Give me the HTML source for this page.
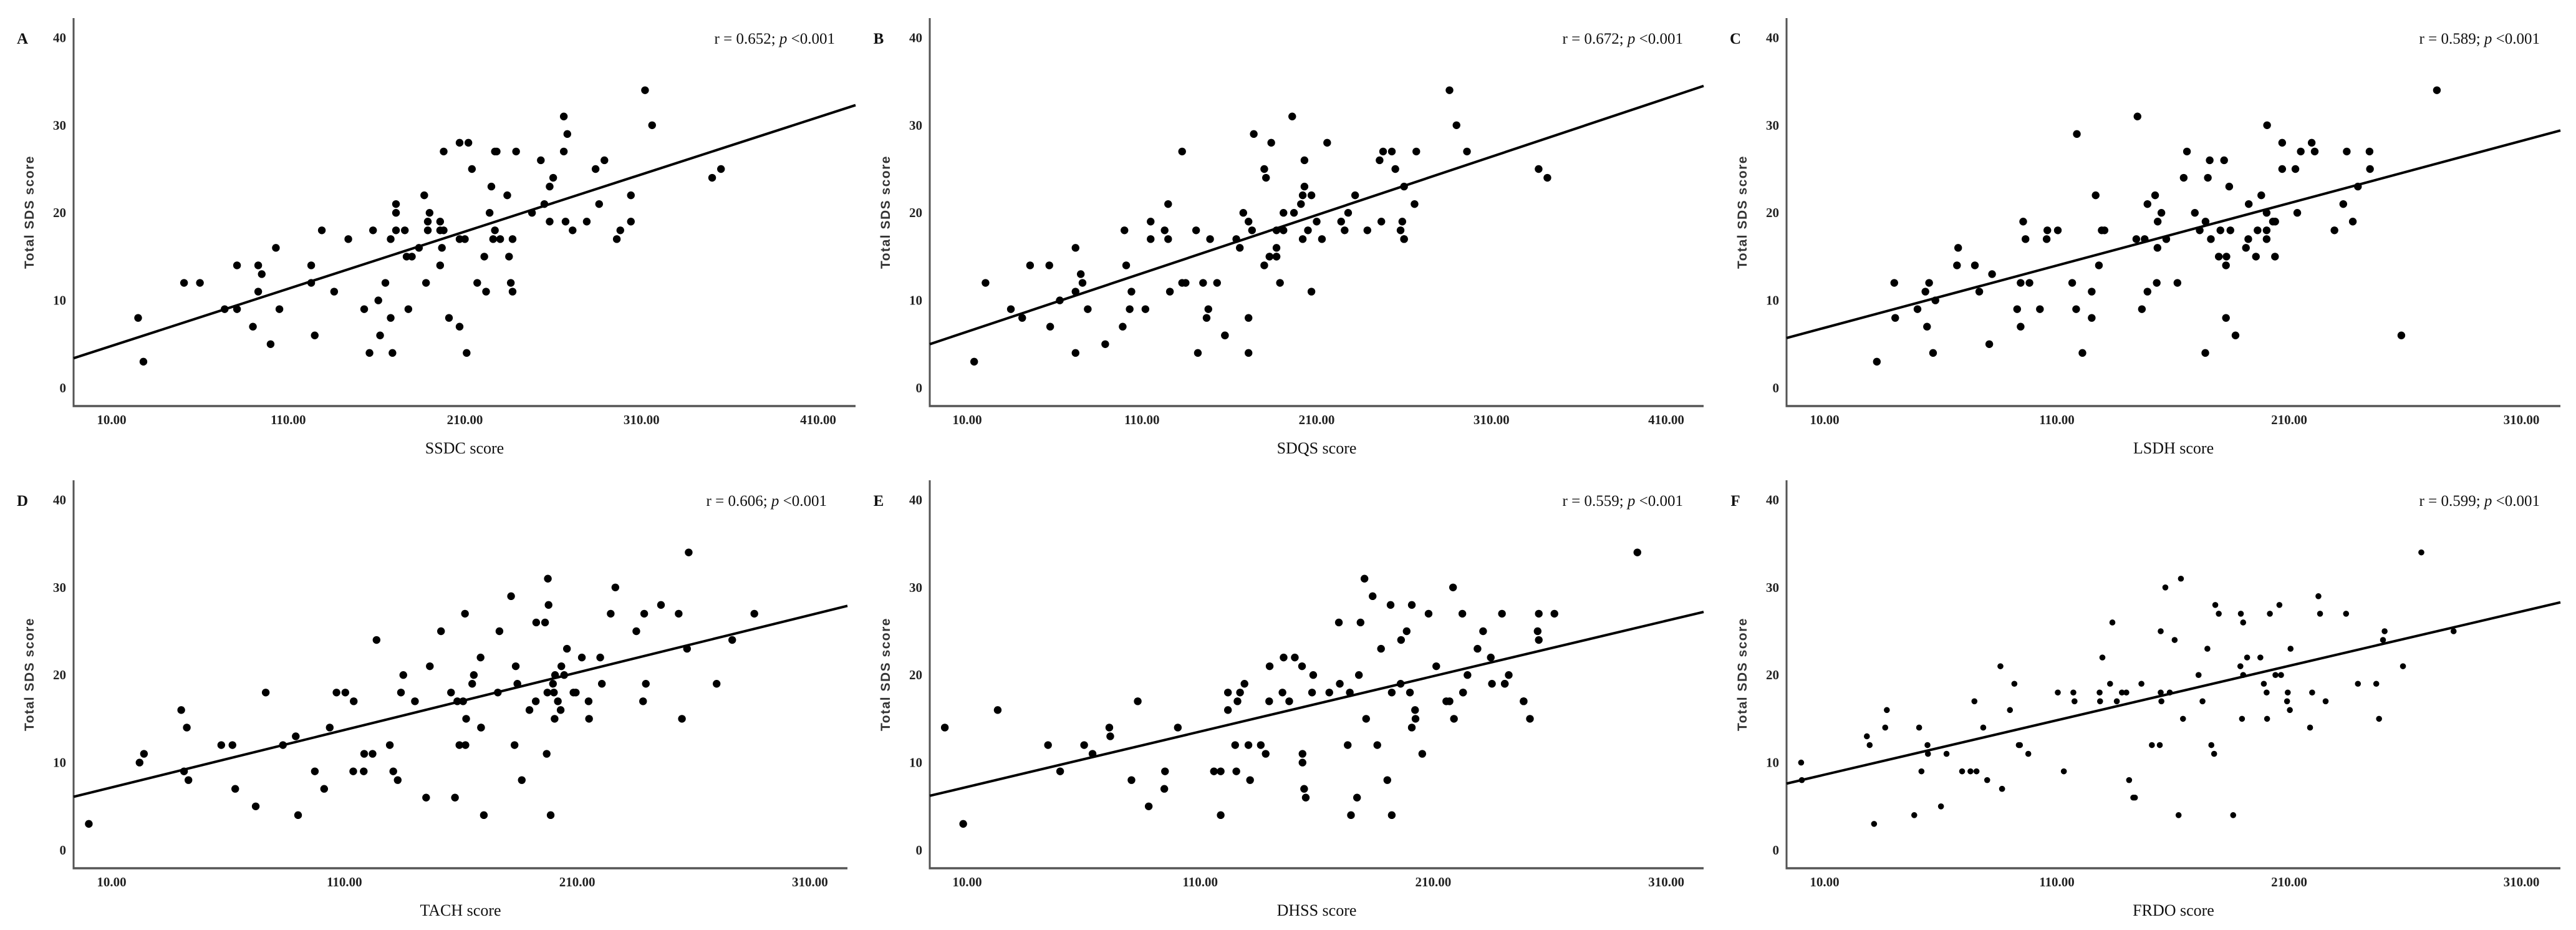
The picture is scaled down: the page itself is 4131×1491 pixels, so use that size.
<!DOCTYPE html>
<html><head><meta charset="utf-8"><title>SDS correlations</title>
<style>
html,body{margin:0;padding:0;background:#fff;}
svg{display:block;}
.tick{font-family:"Liberation Serif",serif;font-weight:bold;font-size:21px;fill:#222;}
.rt{font-family:"Liberation Serif",serif;font-size:25px;fill:#111;}
.xt{font-family:"Liberation Serif",serif;font-size:26px;fill:#111;}
.yt{font-family:"Liberation Sans",sans-serif;font-weight:bold;font-size:21px;letter-spacing:1.5px;fill:#333;}
.lt{font-family:"Liberation Serif",serif;font-weight:bold;font-size:25px;fill:#111;}
</style></head>
<body>
<svg id="chart" width="4131" height="1491" viewBox="0 0 4131 1491" xmlns="http://www.w3.org/2000/svg"></svg>
<script>
// Shared Total SDS score values (same subjects in every panel)
const sdsScores = [34,31,30,29,28,28,27,27,27,27,27,26,26,25,25,25,24,24,23,23,22,22,22,21,21,21,20,20,20,20,
19,19,19,19,19,19,18,18,18,18,18,18,18,18,18,18,17,17,17,17,17,17,17,17,16,16,16,15,15,15,15,14,14,14,14,13,
12,12,12,12,12,12,12,11,11,11,11,10,9,9,9,9,9,8,8,8,7,7,6,6,5,4,4,4,3];

const ssdcScores = [312,266,316,268,207,212,198,227,228,239,266,253,289,214,284,355,260,350,225,258,187,234,304,171,255,286,171,190,224,248,
189,196,258,267,279,304,129,158,171,176,189,196,198,227,271,298,144,168,207,210,226,230,237,296,103,184,197,177,180,221,235,81,93,123,196,95,
51,60,123,165,188,217,236,93,136,222,237,161,74,81,105,153,178,25,168,201,90,207,125,162,100,156,169,211,28];

const sdqsScores = [286,196,290,174,184,216,133,248,253,267,296,203,246,180,255,337,181,342,203,260,202,207,232,125,201,266,168,191,197,228,
115,171,210,224,247,259,100,123,141,173,187,191,205,226,239,258,115,125,149,164,202,213,260,260,72,166,187,183,187,183,187,46,57,101,180,75,
20.5,76,133,135,145,153,189,72,104,126,207,63,35,79,103,112,148,41.5,147,171,57.5,99,157.5,157.5,89,72,142,171,14];

const lsdhScores = [273.6,144.7,200.5,118.6,207,219.7,166,215,221,234.8,244.6,175.8,182,207,212.7,244.8,164.6,175,184.2,239.6,126.7,152.3,198,149,192.6,233.3,155,169.4,200.3,213.5,
95.5,153.4,174,203,204,237.4,105.9,110.4,129.3,130.5,171.5,180.4,184.7,196.4,200.3,229.5,96.5,105.6,144.2,147.8,157.1,176.3,192.4,200.3,67.5,153.3,191.4,179.7,183,195.7,203.9,67,74.7,128.1,182.8,82.1,
40,55,94.4,98.2,116.6,153,161.9,53.4,76.6,125,149,57.7,50,92.9,102.7,118.3,146.6,40.4,125,182.8,54.1,94.4,186.9,258.3,80.9,56.7,121,173.9,32.5];

const tachScores = [257.9,197.4,226.4,181.6,197.7,246,161.8,224.4,238.8,253.6,286.1,192.4,196.2,151.5,176.6,235.4,123.8,276.6,205.6,257.2,168.5,212,219.9,146.7,183.6,203.2,135.3,165.6,200.5,204.4,
164.9,184.3,199.6,220.6,239.5,269.9,76.2,106.6,110.4,134.3,155.8,175.9,197.2,200,208.4,209.4,114,140.3,158.5,161,192.2,201.7,214.9,238.3,39.9,189.5,202.9,162.3,200.3,215.1,255,42.3,103.7,168.7,168.7,89.1,
57.1,61.9,83.6,129.5,159.4,162,183.1,23.9,118.5,122.1,196.9,22,41.1,97.3,113.8,118.3,131,43,132.9,186.2,63.1,101.3,145.1,157.5,71.9,90.1,169.9,198.6,0.2];

const dhssScores = [297.6,180.5,218.5,184,191.7,200.8,208,222.5,239.5,255.3,262,169.5,178.8,198.6,231.4,254.8,196.2,255.3,187.6,229,145.8,150.6,234.7,139.8,153.7,211.3,158.5,178.1,224.7,242.4,
129,169.9,196,235.2,240.7,240.7,121.9,127.1,145.3,158,165.4,174.2,192.2,200,222.8,222.8,83.2,126,139.6,148.2,215.6,217,248.8,248.8,23.1,121.9,202.2,181.2,202.4,218.9,251.5,0.4,71,100.4,200.8,71.4,
44.7,60.2,125,130.7,136,173.3,186,63.8,138.1,153.9,205.3,153.9,49.9,94.9,115.9,118.8,125.5,80.5,131.4,190.3,94.6,154.6,155.3,177.3,87.9,118.8,174.7,192.2,8.3];

const frdoScores = [266.9,163.4,156.7,222.6,178.2,205.8,179.7,189.2,201.7,223.3,234.5,133.9,190.2,154.7,251.1,280.8,160.7,250.4,174.8,210.6,129.6,191.9,197.6,85.7,189,259,171,190.2,204.1,206.5,
91.7,132.9,146.4,199.1,239.6,247.5,110.4,117.1,128.4,138,139.9,154.7,158.6,200.3,209.4,219.9,74.5,117.6,128.6,135.8,155,172.7,209.1,225.7,36.8,89.8,210.3,164.3,189.7,200.5,248.7,36.1,50.7,78.3,219,28.2,
29.4,54.3,93.6,94.1,150.9,154.3,176.5,54.5,62.5,97.7,177.7,-0.1,51.7,69.2,72.8,75.4,113,0.2,80,141.1,86.4,86.4,142.9,143.6,60.1,48.6,162.4,185.9,31.3];

const panelLetters = ["A","B","C","D","E","F"];
const xTitles = ["SSDC score","SDQS score","LSDH score","TACH score","DHSS score","FRDO score"];
const rValues = ["0.652","0.672","0.589","0.606","0.559","0.599"];
const fitIntercepts = [4.15,5.76,6.16,6.51,6.59,8.0];
const fitSlopes = [0.06528,0.0666,0.07113,0.06558,0.06323,0.06212];
const xTicksWide = [10,110,210,310,410];
const xTicksNarrow = [10,110,210,310];
const yTicks = [0,10,20,30,40];
const xSeries = [ssdcScores,sdqsScores,lsdhScores,tachScores,dhssScores,frdoScores];

// geometry (pixels)
const geom = [
 {ax:118, ar:1372, x10:179, ppu:2.8325, oy:0, r:6.2, wide:true},
 {ax:1491, ar:2732, x10:1551, ppu:2.8025, oy:0, r:6.2, wide:true},
 {ax:2865, ar:4106, x10:2926, ppu:3.725, oy:0, r:6.2, wide:false},
 {ax:118, ar:1359, x10:179, ppu:3.733, oy:741, r:6.2, wide:false},
 {ax:1491, ar:2732, x10:1551, ppu:3.737, oy:741, r:6.2, wide:false},
 {ax:2865, ar:4106, x10:2926, ppu:3.725, oy:741, r:4.8, wide:false}
];
const NS = "http://www.w3.org/2000/svg";
const svg = document.getElementById('chart');
function mk(tag, parent){ const e=document.createElementNS(NS,tag); parent.appendChild(e); return e; }

for (let p=0;p<6;p++){
  const g = geom[p];
  const xs = v => g.x10 + (v-10)*g.ppu;
  const ys = v => g.oy + 622 - v*14.04;
  const yTop = g.oy + 29, yBot = g.oy + 651;
  const grp = mk('g', svg);
  
  

  const yaxis = mk('line', grp);
  
  
  yaxis.setAttribute('x1', g.ax); yaxis.setAttribute('x2', g.ax);
  yaxis.setAttribute('y1', yTop); yaxis.setAttribute('y2', yBot);
  yaxis.setAttribute('stroke', '#555'); yaxis.setAttribute('stroke-width', 3);

  const xaxis = mk('line', grp);
  
  
  xaxis.setAttribute('x1', g.ax-1.5); xaxis.setAttribute('x2', g.ar);
  xaxis.setAttribute('y1', yBot); xaxis.setAttribute('y2', yBot);
  xaxis.setAttribute('stroke', '#555'); xaxis.setAttribute('stroke-width', 3.5);

  yTicks.forEach(t => {
    const tx = mk('text', grp);
    
    
    tx.setAttribute('class', 'tick');
    tx.setAttribute('x', g.ax - 12); tx.setAttribute('y', ys(t) + 7);
    tx.setAttribute('text-anchor', 'end');
    tx.textContent = String(t);
  });
  (g.wide ? xTicksWide : xTicksNarrow).forEach(t => {
    const tx = mk('text', grp);
    
    
    tx.setAttribute('class', 'tick');
    tx.setAttribute('x', xs(t)); tx.setAttribute('y', g.oy + 680);
    tx.setAttribute('text-anchor', 'middle');
    tx.textContent = t.toFixed(2);
  });

  const xt = mk('text', grp);
  
  
  xt.setAttribute('class', 'xt');
  xt.setAttribute('x', (g.ax + g.ar)/2); xt.setAttribute('y', g.oy + 727);
  xt.setAttribute('text-anchor', 'middle');
  xt.textContent = xTitles[p];

  const yt = mk('text', grp);
  
  
  yt.setAttribute('class', 'yt');
  const ycx = g.ax - 64, ycy = g.oy + 340;
  yt.setAttribute('x', ycx); yt.setAttribute('y', ycy);
  yt.setAttribute('text-anchor', 'middle');
  yt.setAttribute('transform', 'rotate(-90 ' + ycx + ' ' + ycy + ')');
  yt.textContent = 'Total SDS score';

  const lt = mk('text', grp);
  
  
  lt.setAttribute('class', 'lt');
  lt.setAttribute('x', g.ax - 82); lt.setAttribute('y', g.oy + 70);
  lt.setAttribute('text-anchor', 'middle');
  lt.textContent = panelLetters[p];

  const rt = mk('text', grp);
  
  
  rt.setAttribute('class', 'rt');
  rt.setAttribute('x', g.ar - 33); rt.setAttribute('y', g.oy + 70);
  rt.setAttribute('text-anchor', 'end');
  const s1 = mk('tspan', rt); s1.textContent = 'r = ' + rValues[p] + '; ';
  const s2 = mk('tspan', rt); s2.setAttribute('font-style', 'italic'); s2.textContent = 'p';
  const s3 = mk('tspan', rt); s3.textContent = ' <0.001';

  const xmin = 10 + (g.ax - g.x10)/g.ppu, xmax = 10 + (g.ar - g.x10)/g.ppu;
  const fit = mk('line', grp);
  
  
  fit.setAttribute('x1', xs(xmin)); fit.setAttribute('y1', ys(fitIntercepts[p] + fitSlopes[p]*xmin));
  fit.setAttribute('x2', xs(xmax)); fit.setAttribute('y2', ys(fitIntercepts[p] + fitSlopes[p]*xmax));
  fit.setAttribute('stroke', '#000'); fit.setAttribute('stroke-width', 4);

  const xv = xSeries[p];
  for (let i=0;i<xv.length;i++){
    const c = mk('ellipse', grp);
    
    
    c.setAttribute('cx', xs(xv[i])); c.setAttribute('cy', ys(sdsScores[i]));
    c.setAttribute('rx', g.r); c.setAttribute('ry', g.r);
    c.setAttribute('fill', '#000');
  }
}
</script>
</body></html>
